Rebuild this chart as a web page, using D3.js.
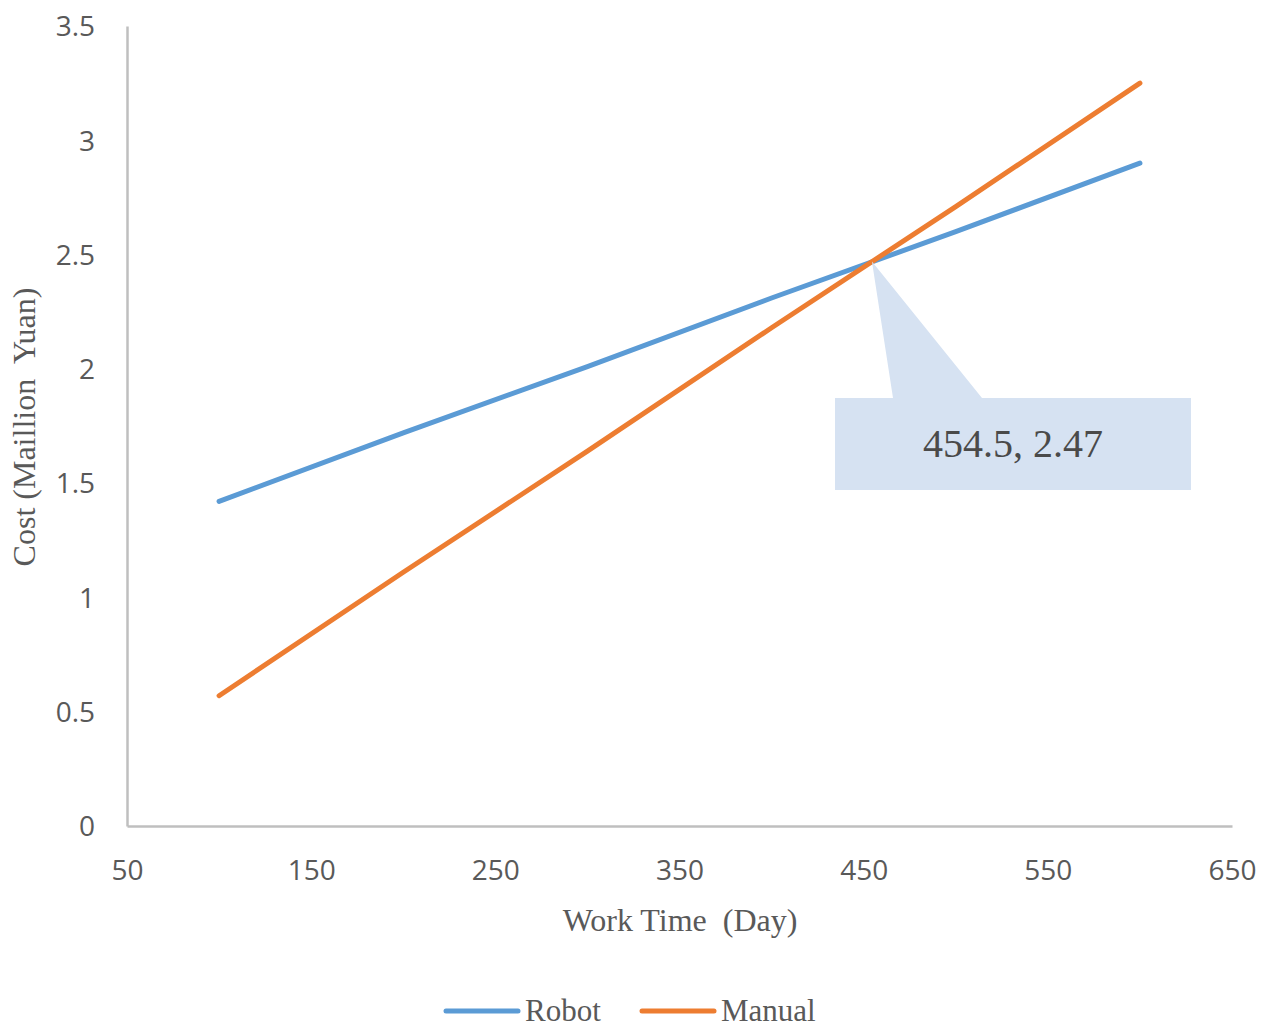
<!DOCTYPE html>
<html>
<head>
<meta charset="utf-8">
<script src="https://cdn.jsdelivr.net/npm/d3@7"></script>
<style>
  html, body { margin: 0; padding: 0; background: #fff; }
  svg { display: block; }
  .tick-label { font-family: "Open Sans", sans-serif; font-size: 28px; fill: #595959; }
  .serif { font-family: "Liberation Serif", "Times New Roman", serif; fill: #595959; }
</style>
</head>
<body>
<svg id="chart" width="1277" height="1030"></svg>
<script>
// Work time (days) sampled for both cost curves
const workDays = [100, 200, 300, 400, 500, 600];
// Cost in million yuan
const robotCost  = [1.42, 1.72, 2.01, 2.31, 2.60, 2.90];
const manualCost = [0.57, 1.11, 1.64, 2.18, 2.71, 3.25];
const seriesNames = ["Robot", "Manual"];
const seriesColors = ["#5B9BD5", "#ED7D31"];
const xTicks = [50, 150, 250, 350, 450, 550, 650];
const yTicks = [0, 0.5, 1, 1.5, 2, 2.5, 3, 3.5];
// Break-even point of the two cost lines
const breakEven = { x: 454.5, y: 2.47 };

const svg = d3.select("#chart");
const plotL = 127, plotR = 1232, plotT = 26, plotB = 826;

const x = d3.scaleLinear().domain([50, 650]).range([plotL, plotR]);
const y = d3.scaleLinear().domain([0, 3.5]).range([plotB, plotT]);

// axes (line only, no tick marks)
const xAxis = d3.axisBottom(x).tickValues(xTicks).tickSize(0).tickPadding(0).tickFormat(d3.format("d"));
const yAxis = d3.axisLeft(y).tickValues(yTicks).tickSize(0).tickFormat(d => String(d));

const gx = svg.append("g").attr("transform", `translate(0,${plotB})`).call(xAxis);
gx.select(".domain").attr("stroke", "#bfbfbf").attr("stroke-width", 2.5);
gx.selectAll(".tick text").attr("class", "tick-label").attr("dy", null).attr("y", 54);

const gy = svg.append("g").attr("transform", `translate(${plotL},0)`).call(yAxis);
gy.select(".domain").attr("stroke", "#bfbfbf").attr("stroke-width", 2.5);
gy.selectAll(".tick text").attr("class", "tick-label").attr("x", -32).attr("dy", "0.35em");

// cost lines
const line = d3.line().x(d => x(d[0])).y(d => y(d[1]));
const seriesData = [robotCost, manualCost];
seriesData.forEach((vals, i) => {
  svg.append("path")
    .datum(workDays.map((d, j) => [d, vals[j]]))
    .attr("d", line)
    .attr("fill", "none")
    .attr("stroke", seriesColors[i])
    .attr("stroke-width", 5)
    .attr("stroke-linecap", "round")
    .attr("stroke-linejoin", "round");
});

// callout box for the break-even point
const px = x(breakEven.x), py = y(breakEven.y);
const boxL = 835, boxR = 1191, boxT = 398, boxB = 490;
const callout = svg.append("g");
callout.append("path")
  .attr("d", `M${px},${py} L982,${boxT} L${boxR},${boxT} L${boxR},${boxB} L${boxL},${boxB} L${boxL},${boxT} L893,${boxT} Z`)
  .attr("fill", "#d6e2f2");
callout.append("text")
  .attr("x", (boxL + boxR) / 2)
  .attr("y", 457)
  .attr("text-anchor", "middle")
  .style("font-family", "'Liberation Serif', 'Times New Roman', serif")
  .style("font-size", "40px")
  .style("fill", "#4a4a4a")
  .text(`${breakEven.x}, ${breakEven.y}`);

// axis titles
svg.append("text")
  .attr("class", "serif")
  .attr("x", 680).attr("y", 931)
  .attr("text-anchor", "middle")
  .attr("font-size", 32)
  .style("white-space", "pre")
  .text("Work Time  (Day)");

svg.append("text")
  .attr("class", "serif")
  .attr("transform", "translate(35,427) rotate(-90)")
  .attr("text-anchor", "middle")
  .attr("font-size", 32)
  .style("white-space", "pre")
  .text("Cost (Maillion  Yuan)");

// legend
const legendItems = [
  { name: seriesNames[0], color: seriesColors[0], x0: 446 },
  { name: seriesNames[1], color: seriesColors[1], x0: 642 }
];
const legendY = 1011;
legendItems.forEach(it => {
  svg.append("line")
    .attr("x1", it.x0).attr("x2", it.x0 + 72)
    .attr("y1", legendY).attr("y2", legendY)
    .attr("stroke", it.color).attr("stroke-width", 5)
    .attr("stroke-linecap", "round");
  svg.append("text")
    .attr("class", "serif")
    .attr("x", it.x0 + 79).attr("y", legendY + 10)
    .attr("font-size", 31)
    .text(it.name);
});
</script>
</body>
</html>
